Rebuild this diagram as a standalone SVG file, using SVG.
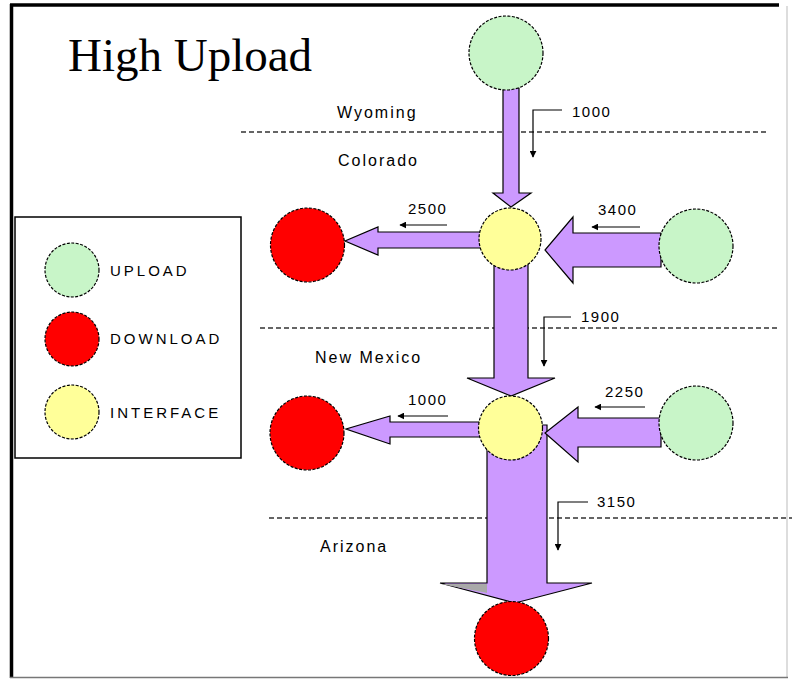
<svg xmlns="http://www.w3.org/2000/svg" width="792" height="679" viewBox="0 0 792 679">
<defs>
<style>
.up{fill:#c8f5c8;stroke:#000;stroke-width:1.2;stroke-dasharray:3 1.5}
.dn{fill:#ff0000;stroke:#000;stroke-width:1.2;stroke-dasharray:3 1.5}
.if{fill:#ffff99;stroke:#000;stroke-width:1.2;stroke-dasharray:3 1.5}
.flow{fill:#cc99ff;stroke:#000;stroke-width:1.2;stroke-linejoin:miter}
.dash{stroke:#333;stroke-width:1.5;stroke-dasharray:5 3;fill:none}
.ind{stroke:#000;stroke-width:1.2;fill:none}
.lbl{font-family:"Liberation Sans",Arial,sans-serif;font-size:16px;letter-spacing:2px;fill:#000}
.num{font-family:"Liberation Sans",Arial,sans-serif;font-size:15px;letter-spacing:1.5px;fill:#000}
.leg{font-family:"Liberation Sans",Arial,sans-serif;font-size:15px;letter-spacing:3px;fill:#000}
</style>
<marker id="ah" viewBox="0 0 10 10" refX="9" refY="5" markerWidth="7" markerHeight="7" markerUnits="userSpaceOnUse" orient="auto">
<path d="M0,0 L10,5 L0,10 z" fill="#000"/>
</marker>
</defs>
<rect x="0" y="0" width="792" height="679" fill="#fff"/>
<g id="frame">
<line x1="10" y1="5" x2="779" y2="5" stroke="#000" stroke-width="3.5"/>
<line x1="11.5" y1="4" x2="11.5" y2="678" stroke="#000" stroke-width="3.5"/>
<line x1="787" y1="6" x2="787" y2="677" stroke="#bbb" stroke-width="1"/>
<line x1="10" y1="677.5" x2="788" y2="677.5" stroke="#777" stroke-width="1.5"/>
</g>
<text id="title" x="68" y="71" font-family="'Liberation Serif','Times New Roman',serif" font-size="47" fill="#000">High Upload</text>
<g id="borders">
<line class="dash" x1="241" y1="132" x2="766" y2="132"/>
<line class="dash" x1="260" y1="328" x2="777" y2="328"/>
<line class="dash" x1="269" y1="518" x2="792" y2="518"/>
</g>
<g id="regions">
<text class="lbl" x="337" y="118">Wyoming</text>
<text class="lbl" x="338" y="166">Colorado</text>
<text class="lbl" x="315" y="363">New Mexico</text>
<text class="lbl" x="320" y="552">Arizona</text>
</g>
<g id="connectors">
<polygon class="flow" points="503,88 519,88 519,193 531,193 511,207 493,193 503,193"/>
<polygon class="flow" points="482,232 378,232 378,227 345,241 378,255 378,248 482,248"/>
<polygon class="flow" points="661,233 573,233 573,217 545,250 573,283 573,267 661,267"/>
<polygon class="flow" points="494,262 528,262 528,378 555,378 511,396 467,378 494,378"/>
<polygon class="flow" points="487,425 547,425 547,583 592,583 515,603 440,583 487,583"/>
<polygon points="441,584 487,584 487,593" fill="#a9a9a9"/>
<polygon class="flow" points="482,422 390,422 390,416 346,429 390,444 390,437 482,437"/>
<polygon class="flow" points="661,418 578,418 578,407 545,433 578,462 578,447 661,447"/>
</g>
<g id="indicators">
<polyline class="ind" points="562,110 533,110 533,157" marker-end="url(#ah)"/>
<text class="num" x="572" y="117">1000</text>
<polyline class="ind" points="571,317 544,317 544,366" marker-end="url(#ah)"/>
<text class="num" x="581" y="322">1900</text>
<polyline class="ind" points="588,502 558,502 558,550" marker-end="url(#ah)"/>
<text class="num" x="597" y="507">3150</text>
<line class="ind" x1="447" y1="225" x2="400" y2="225" marker-end="url(#ah)"/>
<text class="num" x="408" y="214">2500</text>
<line class="ind" x1="640" y1="227" x2="592" y2="227" marker-end="url(#ah)"/>
<text class="num" x="598" y="215">3400</text>
<line class="ind" x1="448" y1="416" x2="398" y2="416" marker-end="url(#ah)"/>
<text class="num" x="408" y="405">1000</text>
<line class="ind" x1="645" y1="407" x2="595" y2="407" marker-end="url(#ah)"/>
<text class="num" x="605" y="397">2250</text>
</g>
<g id="upload-wyoming"><circle class="up" cx="506" cy="53" r="37"/></g>
<g id="interface-colorado"><circle class="if" cx="510" cy="239" r="31"/></g>
<g id="download-colorado"><circle class="dn" cx="307.5" cy="245" r="37"/></g>
<g id="upload-colorado"><circle class="up" cx="696" cy="246" r="37"/></g>
<g id="interface-newmexico"><circle class="if" cx="510.5" cy="428" r="32"/></g>
<g id="download-newmexico"><circle class="dn" cx="307" cy="433" r="37"/></g>
<g id="upload-newmexico"><circle class="up" cx="696" cy="423" r="37"/></g>
<g id="download-arizona"><circle class="dn" cx="511.5" cy="638.5" r="37"/></g>
<g id="legend">
<rect x="15" y="217" width="226" height="241" fill="#fff" stroke="#000" stroke-width="1.5"/>
<circle class="up" cx="72" cy="270" r="27"/>
<text class="leg" x="110" y="276">UPLOAD</text>
<circle class="dn" cx="72" cy="339" r="27"/>
<text class="leg" x="110" y="344">DOWNLOAD</text>
<circle class="if" cx="72" cy="412" r="27"/>
<text class="leg" x="110" y="418">INTERFACE</text>
</g>
</svg>
